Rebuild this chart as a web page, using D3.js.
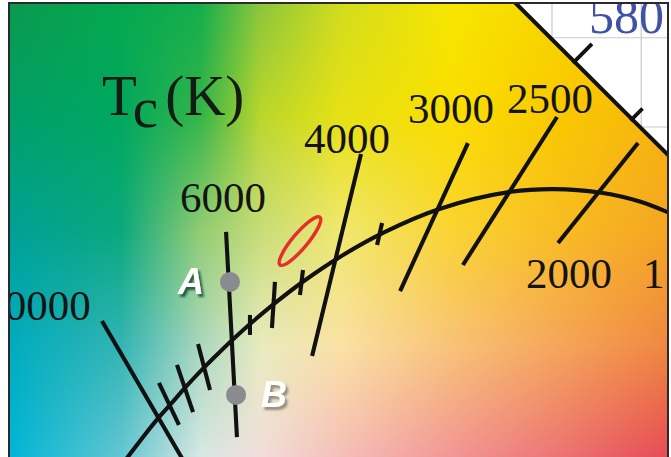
<!DOCTYPE html>
<html lang="en">
<head>
<meta charset="utf-8">
<title>Planckian locus, CIE 1931 detail</title>
<script src="https://cdn.jsdelivr.net/npm/d3@7"></script>
<style>
  body { margin: 0; background: #fff; }
  svg { display: block; }
</style>
</head>
<body>
<script>
// Planckian locus (CIE 1931 x, y)
var planckT = [20000, 15000, 12000, 10000, 9000, 8000, 7000, 6500, 6000, 5500, 5000, 4500, 4000, 3500, 3000, 2500, 2250, 2000, 1800, 1500];
var planckX = [0.2565, 0.2637, 0.2719, 0.2807, 0.2870, 0.2952, 0.3064, 0.3135, 0.3221, 0.3324, 0.3451, 0.3608, 0.3805, 0.4053, 0.4369, 0.4770, 0.5012, 0.5267, 0.5496, 0.5857];
var planckY = [0.2577, 0.2669, 0.2776, 0.2884, 0.2954, 0.3048, 0.3166, 0.3236, 0.3318, 0.3410, 0.3516, 0.3636, 0.3768, 0.3907, 0.4041, 0.4137, 0.4152, 0.4133, 0.4081, 0.3931];

// isotemperature lines (end points)
var isoT  = [10000, 6000, 4000, 3000, 2500, 2000];
var isoX1 = [0.2479, 0.3174, 0.3930, 0.4529, 0.5028, 0.5482];
var isoY1 = [0.3413, 0.3912, 0.4349, 0.4410, 0.4556, 0.4410];
var isoX2 = [0.2966, 0.3235, 0.3656, 0.4149, 0.4501, 0.5034];
var isoY2 = [0.2578, 0.2763, 0.3217, 0.3581, 0.3727, 0.3850];

// small ticks on the locus
var tickT  = [9000, 8000, 7000, 5500, 5000, 4500, 3500];
var tickX1 = [0.2798, 0.2899, 0.3017, 0.3308, 0.3448, 0.3605, 0.4048];
var tickY1 = [0.3066, 0.3167, 0.3284, 0.3447, 0.3632, 0.3699, 0.3962];
var tickX2 = [0.2910, 0.2989, 0.3084, 0.3308, 0.3431, 0.3588, 0.4020];
var tickY2 = [0.2831, 0.2903, 0.3027, 0.3335, 0.3374, 0.3559, 0.3839];

// temperature labels
var labelText = ["10000", "6000", "4000", "3000", "2500", "2000", "1500"];
var labelX = [0.2115, 0.3157, 0.3852, 0.4434, 0.4989, 0.5095, 0.5751];
var labelY = [0.3419, 0.4024, 0.4354, 0.4522, 0.4578, 0.3598, 0.3598];

// spectral locus (nm)
var specNm = [565, 570, 575, 580, 585, 590, 595];
var specX  = [0.4087, 0.4441, 0.4788, 0.5125, 0.5448, 0.5752, 0.6029];
var specY  = [0.5896, 0.5547, 0.5202, 0.4866, 0.4544, 0.4242, 0.3965];
var specTicks = [580, 585];

// grid of the diagram
var gridX = [0.50, 0.55];
var gridY = [0.45, 0.50];

// marked points
var pointName = ["A", "B"];
var pointX = [0.3196, 0.3230];
var pointY = [0.3632, 0.2999];

// MacAdam-type ellipse: centre, semi axes, angle (deg)
var ellipseC = [0.3588, 0.3861];
var ellipseAxes = [0.0174, 0.0042];
var ellipseAngle = 50;

var W = 671, H = 457;

// background colour field of the diagram (style)
var bgCols = [10, 120, 200, 260, 340, 450, 560, 667];
var bgRows = [4, 115, 230, 345, 457];
var bgColors = [
  ["#0a9a4e", "#05a84f", "#14ae4c", "#8cc63c", "#d2dc1e", "#f7e600", "#f8d400", "#f6c000"],
  ["#009f6a", "#00a85e", "#34b449", "#bad62c", "#e6e114", "#fade00", "#f9c800", "#f6b40f"],
  ["#00a096", "#0aa87d", "#92cc72", "#c8dc78", "#f0e86e", "#fad432", "#f8bc23", "#f5a523"],
  ["#00acbe", "#32b4b4", "#aad7be", "#e8ebbe", "#fae1a5", "#f8c378", "#f5a55a", "#f08741"],
  ["#00b6d7", "#64c6d2", "#d7e8e4", "#f2dedc", "#f5beb9", "#f29696", "#ec7373", "#e64b55"]
];

var x = d3.scaleLinear().domain([0.190756, 0.566667]).range([0, W]);
var y = d3.scaleLinear().domain([0.521148, 0.265126]).range([0, H]);

var svg = d3.select("body").append("svg")
    .attr("width", W)
    .attr("height", H);

var defs = svg.append("defs");
defs.append("clipPath").attr("id", "frame")
  .append("rect").attr("x", 10).attr("y", 4).attr("width", 657).attr("height", 453);

// area outside the spectral locus
var outsidePts = specNm.map(function(d, i) { return [specX[i], specY[i]]; });
outsidePts.push([0.75, specY[specY.length - 1]], [0.75, 0.75], [specX[0], 0.75]);
var poly = d3.line().x(function(d) { return x(d[0]); }).y(function(d) { return y(d[1]); });
defs.append("clipPath").attr("id", "outside")
  .append("path").attr("d", poly(outsidePts) + "Z");

function dropShadow(id, colour, op) {
  var f = defs.append("filter").attr("id", id)
      .attr("x", "-30%").attr("y", "-30%").attr("width", "160%").attr("height", "160%");
  f.append("feDropShadow")
      .attr("dx", 2.5).attr("dy", 3).attr("stdDeviation", 1.3)
      .attr("flood-color", colour).attr("flood-opacity", op);
}
dropShadow("shadowA", "#0f4a2a", 0.85);
dropShadow("shadowB", "#555", 0.6);

// paint colour field
var canvas = document.createElement("canvas");
canvas.width = W; canvas.height = H;
var ctx = canvas.getContext("2d");
var img = ctx.createImageData(W, H);
var grid = bgColors.map(function(r) { return r.map(function(c) { return d3.rgb(c); }); });
function cell(stops, v) {
  var i = d3.bisectRight(stops, v) - 1;
  i = Math.max(0, Math.min(stops.length - 2, i));
  var t = (v - stops[i]) / (stops[i + 1] - stops[i]);
  return [i, Math.max(0, Math.min(1, t))];
}
for (var py = 0; py < H; py++) {
  var cy = cell(bgRows, py), j = cy[0], ty = cy[1];
  for (var px = 0; px < W; px++) {
    var cx = cell(bgCols, px), i = cx[0], tx = cx[1];
    var a = grid[j][i], b = grid[j][i + 1], c = grid[j + 1][i], d = grid[j + 1][i + 1];
    var k = (py * W + px) * 4;
    img.data[k]     = (a.r * (1 - tx) + b.r * tx) * (1 - ty) + (c.r * (1 - tx) + d.r * tx) * ty;
    img.data[k + 1] = (a.g * (1 - tx) + b.g * tx) * (1 - ty) + (c.g * (1 - tx) + d.g * tx) * ty;
    img.data[k + 2] = (a.b * (1 - tx) + b.b * tx) * (1 - ty) + (c.b * (1 - tx) + d.b * tx) * ty;
    img.data[k + 3] = 255;
  }
}
ctx.putImageData(img, 0, 0);

var chart = svg.append("g").attr("clip-path", "url(#frame)");

chart.append("image")
    .attr("href", canvas.toDataURL())
    .attr("width", W).attr("height", H);

// white outside the gamut, with the grid
var out = chart.append("g").attr("clip-path", "url(#outside)");
out.append("rect").attr("width", W).attr("height", H).attr("fill", "#fff");
out.selectAll("line.gx").data(gridX).enter().append("line")
    .attr("x1", function(d) { return x(d); }).attr("x2", function(d) { return x(d); })
    .attr("y1", 0).attr("y2", H)
    .attr("stroke", "#c9c9d2").attr("stroke-width", 1.2);
out.selectAll("line.gy").data(gridY).enter().append("line")
    .attr("y1", function(d) { return y(d); }).attr("y2", function(d) { return y(d); })
    .attr("x1", 0).attr("x2", W)
    .attr("stroke", "#c9c9d2").attr("stroke-width", 1.2);

var ink = "#111";
var lw = 4.1;

// spectral locus
var line = d3.line().x(function(d) { return x(d[0]); }).y(function(d) { return y(d[1]); });
chart.append("path")
    .attr("d", line(specNm.map(function(d, i) { return [specX[i], specY[i]]; })))
    .attr("fill", "none").attr("stroke", ink).attr("stroke-width", lw);

specTicks.forEach(function(nm) {
  var i = specNm.indexOf(nm);
  var p = [x(specX[i]), y(specY[i])];
  var dx = x(specX[i + 1]) - x(specX[i - 1]), dy = y(specY[i + 1]) - y(specY[i - 1]);
  var len = Math.hypot(dx, dy);
  var nx = dy / len, ny = -dx / len;
  var L = nm % 10 === 0 ? 25 : 15;
  chart.append("line")
      .attr("x1", p[0] - nx * 2).attr("y1", p[1] - ny * 2)
      .attr("x2", p[0] + nx * L).attr("y2", p[1] + ny * L)
      .attr("stroke", ink).attr("stroke-width", 3.8);
  if (nm % 10 === 0) {
    chart.append("text")
        .attr("x", p[0] + nx * L - 3).attr("y", p[1] + ny * L - 11)
        .attr("font-family", "'Liberation Serif', 'Times New Roman', serif")
        .attr("font-size", 50).attr("fill", "#3f52a3")
        .text(nm);
  }
});

// Planckian locus
chart.append("path")
    .attr("d", d3.line().curve(d3.curveCatmullRom)
      .x(function(d, i) { return x(planckX[i]); })
      .y(function(d, i) { return y(planckY[i]); })(planckT))
    .attr("fill", "none").attr("stroke", ink).attr("stroke-width", lw);

// isotemperature lines
chart.selectAll("line.iso").data(isoT).enter().append("line")
    .attr("class", "iso")
    .attr("x1", function(d, i) { return x(isoX1[i]); })
    .attr("y1", function(d, i) { return y(isoY1[i]); })
    .attr("x2", function(d, i) { return x(isoX2[i]); })
    .attr("y2", function(d, i) { return y(isoY2[i]); })
    .attr("stroke", ink).attr("stroke-width", lw);

chart.selectAll("line.tick").data(tickT).enter().append("line")
    .attr("class", "tick")
    .attr("x1", function(d, i) { return x(tickX1[i]); })
    .attr("y1", function(d, i) { return y(tickY1[i]); })
    .attr("x2", function(d, i) { return x(tickX2[i]); })
    .attr("y2", function(d, i) { return y(tickY2[i]); })
    .attr("stroke", ink).attr("stroke-width", lw);

// red ellipse
chart.append("ellipse")
    .attr("transform", "translate(" + x(ellipseC[0]) + "," + y(ellipseC[1]) + ") rotate(" + (-ellipseAngle) + ")")
    .attr("rx", x(ellipseC[0] + ellipseAxes[0]) - x(ellipseC[0]))
    .attr("ry", x(ellipseC[0] + ellipseAxes[1]) - x(ellipseC[0]))
    .attr("fill", "none").attr("stroke", "#e3302a").attr("stroke-width", 3.5);

// points A and B
chart.selectAll("circle").data(pointName).enter().append("circle")
    .attr("cx", function(d, i) { return x(pointX[i]); })
    .attr("cy", function(d, i) { return y(pointY[i]); })
    .attr("r", 10)
    .attr("fill", "#8a8b8e");

chart.selectAll("text.pt").data(pointName).enter().append("text")
    .attr("class", "pt")
    .attr("x", function(d, i) { return x(pointX[i]) + (i === 0 ? -39 : 38); })
    .attr("y", function(d, i) { return y(pointY[i]) + 12; })
    .attr("text-anchor", "middle")
    .attr("font-family", "'Liberation Sans', Arial, sans-serif")
    .attr("font-weight", "bold").attr("font-style", "italic")
    .attr("font-size", 36).attr("fill", "#fff")
    .attr("filter", function(d, i) { return i === 0 ? "url(#shadowA)" : "url(#shadowB)"; })
    .text(function(d) { return d; });

// temperature labels
chart.selectAll("text.temp").data(labelText).enter().append("text")
    .attr("class", "temp")
    .attr("x", function(d, i) { return x(labelX[i]); })
    .attr("y", function(d, i) { return y(labelY[i]); })
    .attr("text-anchor", "middle")
    .attr("font-family", "'Liberation Serif', 'Times New Roman', serif")
    .attr("font-size", 43).attr("fill", "#141414")
    .text(function(d) { return d; });

// axis title
var title = chart.append("text")
    .attr("x", x(0.2479)).attr("y", y(0.4567))
    .attr("font-family", "'Liberation Serif', 'Times New Roman', serif")
    .attr("font-size", 57).attr("fill", "#141a14");
title.append("tspan").text("T");
title.append("tspan").attr("dy", 12).text("c");
title.append("tspan").attr("dy", -12).attr("dx", 7).text("(K)");

// frame
svg.append("path")
    .attr("d", "M9,457V3H668V457")
    .attr("fill", "none").attr("stroke", "#2a2a2a").attr("stroke-width", 2);
</script>
</body>
</html>
